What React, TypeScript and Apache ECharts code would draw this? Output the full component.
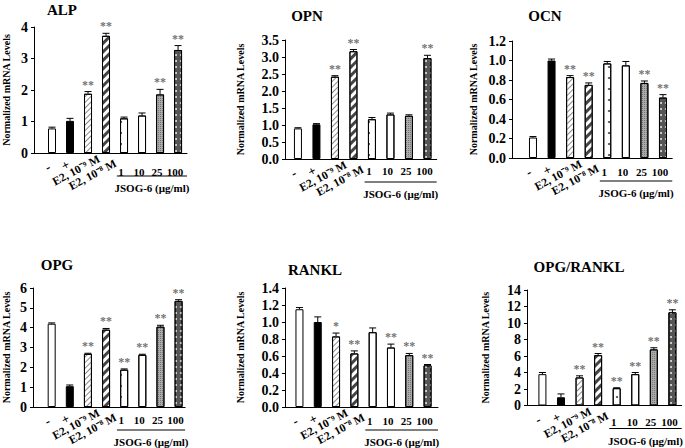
import React, { useEffect, useRef } from 'react';
import * as echarts from 'echarts';

// ---------- data ----------
const categories = ['-', '+', 'E2, 10⁻⁹ M', 'E2, 10⁻⁸ M', '1', '10', '25', '100'];
const panelTitles = ['ALP', 'OPN', 'OCN', 'OPG', 'RANKL', 'OPG/RANKL'];

const alpMean = [0.78, 1.02, 1.88, 3.72, 1.1, 1.19, 1.86, 3.27];
const alpErr = [0.04, 0.08, 0.07, 0.08, 0.04, 0.08, 0.16, 0.14];
const alpStars = ['', '', '**', '**', '', '', '**', '**'];

const opnMean = [0.9, 1.02, 2.42, 3.17, 1.17, 1.31, 1.27, 2.97];
const opnErr = [0.02, 0.02, 0.03, 0.05, 0.05, 0.04, 0.03, 0.08];
const opnStars = ['', '', '**', '**', '', '', '', '**'];

const ocnMean = [0.21, 1.0, 0.83, 0.75, 0.97, 0.95, 0.77, 0.62];
const ocnErr = [0.01, 0.015, 0.015, 0.02, 0.02, 0.04, 0.02, 0.03];
const ocnStars = ['', '', '**', '**', '', '', '**', '**'];

const opgMean = [4.2, 1.05, 2.68, 3.9, 1.88, 2.63, 4.05, 5.35];
const opgErr = [0.04, 0.06, 0.03, 0.06, 0.04, 0.03, 0.07, 0.06];
const opgStars = ['', '', '**', '**', '**', '**', '**', '**'];

const ranklMean = [1.15, 1.0, 0.83, 0.63, 0.88, 0.7, 0.61, 0.49];
const ranklErr = [0.02, 0.06, 0.04, 0.03, 0.05, 0.04, 0.02, 0.01];
const ranklStars = ['', '', '*', '**', '', '**', '**', '**'];

const ratioMean = [3.8, 1.0, 3.4, 6.1, 2.1, 3.8, 6.8, 11.3];
const ratioErr = [0.2, 0.4, 0.2, 0.2, 0.05, 0.2, 0.2, 0.3];
const ratioStars = ['', '', '**', '**', '**', '**', '**', '**'];

const yMax = [4, 3.5, 1.2, 6, 1.4, 14];
const yStep = [1, 0.5, 0.2, 1, 0.2, 2];
const yDecimals = [0, 1, 1, 0, 1, 0];

const yAxisTitle = 'Normalized mRNA Levels';
const groupTitle = 'JSOG-6 (μg/ml)';

const means = [alpMean, opnMean, ocnMean, opgMean, ranklMean, ratioMean];
const errs = [alpErr, opnErr, ocnErr, opgErr, ranklErr, ratioErr];
const stars = [alpStars, opnStars, ocnStars, opgStars, ranklStars, ratioStars];

// ---------- layout ----------
const layouts = [
  { left: 31, top: 27, bottom: 153, xmin: 0, xmax: 8.5, unit: 18.36, nameGap: 23, tx: 62, ty: 10, numDy: 19 },
  { left: 285, top: 40, bottom: 159, xmin: 0.3, xmax: 8.5, unit: 18.5, nameGap: 40, tx: 307, ty: 16, numDy: 12 },
  { left: 512, top: 41, bottom: 158, xmin: -0.13, xmax: 8.5, unit: 18.57, nameGap: 34, tx: 545, ty: 16, numDy: 14 },
  { left: 32, top: 288, bottom: 407, xmin: -0.03, xmax: 8.36, unit: 18.25, nameGap: 22, tx: 57, ty: 265, numDy: 13 },
  { left: 285, top: 288, bottom: 407, xmin: 0.21, xmax: 8.57, unit: 18.3, nameGap: 40, tx: 315, ty: 270, numDy: 14 },
  { left: 527, top: 290, bottom: 405.5, xmin: 0.17, xmax: 8.5, unit: 18.57, nameGap: 37, tx: 579, ty: 267, numDy: 16 },
];
// offsets of the slanted labels from their bar centre / axis line
const slantOffsets = [
  { dx: -4.5, dy: 14, size: 13 },
  { dx: -4.5, dy: 12, size: 13 },
  { dx: -12, dy: 17, size: 11.5 },
  { dx: -13.5, dy: 21.5, size: 11.5 },
];

const FONT = '"Liberation Serif", "Times New Roman", serif';

const barStyles: any[] = [
  { color: '#fff' },
  { color: '#000' },
  { color: '#fff', decal: { symbol: 'rect', symbolSize: 1, symbolKeepAspect: false, dashArrayX: [1, 0], dashArrayY: [1, 2.5], rotation: -Math.PI / 4, color: '#8a8a8a', backgroundColor: '#fff' } },
  { color: '#fff', decal: { symbol: 'rect', symbolSize: 1, symbolKeepAspect: false, dashArrayX: [1, 0], dashArrayY: [2.5, 2.5], rotation: -Math.PI / 4, color: '#444', backgroundColor: '#fff' } },
  { color: '#fff', decal: { symbol: 'circle', symbolSize: 1, dashArrayX: [1.2, 6], dashArrayY: [1.2, 9], color: '#444', backgroundColor: '#fff' } },
  { color: '#fff', decal: { symbol: 'circle', symbolSize: 1, dashArrayX: [1, 2.2], dashArrayY: [1, 2.2], color: '#666', backgroundColor: '#fff' } },
  { color: '#aaa', decal: { symbol: 'rect', symbolSize: 1, symbolKeepAspect: false, dashArrayX: [1, 1], dashArrayY: [1, 1], color: '#777', backgroundColor: '#bbb' } },
  { color: '#555', decal: { symbol: 'circle', symbolSize: 1, dashArrayX: [1.2, 3], dashArrayY: [1.2, 4], color: '#ddd', backgroundColor: '#555' } },
];

export default function App() {
  const ref = useRef<HTMLDivElement>(null);
  useEffect(() => {
    if (!ref.current) return;
    const chart = echarts.init(ref.current, undefined, { renderer: 'svg' });

    const grids: any[] = [];
    const xAxes: any[] = [];
    const yAxes: any[] = [];
    const series: any[] = [];
    const titles: any[] = [];

    layouts.forEach((L, k) => {
      const width = (L.xmax - L.xmin) * L.unit;
      grids.push({ left: L.left, top: L.top, width, height: L.bottom - L.top });
      titles.push({
        text: panelTitles[k], left: L.tx, top: L.ty, textAlign: 'center', textVerticalAlign: 'middle', padding: 0,
        textStyle: { fontSize: 15, fontWeight: 'bold', color: '#000', fontFamily: FONT },
      });
      // main axis
      xAxes.push({
        type: 'value', gridIndex: k, position: 'bottom', min: L.xmin, max: L.xmax,
        axisLine: { show: true, onZero: false, lineStyle: { color: '#000', width: 1 } },
        axisTick: { show: false }, axisLabel: { show: false }, splitLine: { show: false },
      });
      // horizontal number labels (shifted slightly left, as in the source figure)
      const dx = -3;
      xAxes.push({
        type: 'value', gridIndex: k, position: 'bottom', min: L.xmin - dx / L.unit, max: L.xmax - dx / L.unit,
        axisLine: { show: false, onZero: false }, axisTick: { show: false }, splitLine: { show: false },
        axisLabel: {
          show: true, customValues: [5, 6, 7, 8], margin: L.numDy, align: 'center', verticalAlign: 'middle',
          fontFamily: FONT, fontWeight: 'bold', fontSize: 11, color: '#000',
          formatter: (v: number) => categories[Math.round(v) - 1] ?? '',
        },
      });

      yAxes.push({
        type: 'value', gridIndex: k, position: 'left', min: 0, max: yMax[k], interval: yStep[k],
        name: yAxisTitle, nameLocation: 'middle', nameGap: L.nameGap,
        nameTextStyle: { fontFamily: FONT, fontWeight: 'bold', fontSize: 10, color: '#000' },
        axisLine: { show: true, onZero: false, lineStyle: { color: '#000', width: 1 } },
        axisTick: { show: true, length: 3, lineStyle: { color: '#000' } },
        splitLine: { show: false },
        axisLabel: {
          margin: 6, fontFamily: FONT, fontWeight: 'bold', fontSize: 14, color: '#000',
          formatter: (v: number) => v.toFixed(yDecimals[k]),
        },
      });

      series.push({
        type: 'bar', xAxisIndex: k * 2, yAxisIndex: k, barWidth: 8,
        data: means[k].map((v, i) => ({
          value: [i + 1, v],
          itemStyle: { ...barStyles[i], borderColor: '#000', borderWidth: 1 },
        })),
      });
      const st = stars[k];
      series.push({
        type: 'custom', xAxisIndex: k * 2, yAxisIndex: k, clip: false,
        encode: { x: 0, y: 1 },
        data: means[k].map((v, i) => [i + 1, v, errs[k][i]]),
        renderItem: (params: any, api: any) => {
          const x = api.value(0), m = api.value(1), e = api.value(2);
          const b = api.coord([x, m]);
          const t = api.coord([x, m + e]);
          const s = st[params.dataIndex];
          const children: any[] = [
            { type: 'line', shape: { x1: b[0], y1: b[1], x2: t[0], y2: t[1] }, style: { stroke: '#000', lineWidth: 1 } },
            { type: 'line', shape: { x1: t[0] - 3.5, y1: t[1], x2: t[0] + 3.5, y2: t[1] }, style: { stroke: '#000', lineWidth: 1 } },
          ];
          if (s) {
            children.push({
              type: 'text', x: t[0], y: t[1] - 1,
              style: { text: s, fill: '#6e6e6e', opacity: 0.99, fontSize: 12, fontWeight: 'bold', fontFamily: FONT, align: 'center', verticalAlign: 'bottom' },
            });
          }
          return { type: 'group', children };
        },
      });
    });

    chart.setOption({
      animation: false,
      backgroundColor: '#fff',
      textStyle: { fontFamily: FONT },
      title: titles,
      grid: grids,
      xAxis: xAxes,
      yAxis: yAxes,
      series,
    });

    const graphics: any[] = [];
    const rot = (28 * Math.PI) / 180;
    layouts.forEach((L, k) => {
      const px = (v: number) => chart.convertToPixel({ xAxisIndex: k * 2 } as any, v) as number;
      const x1 = px(4.6);
      const x2 = px(L.xmax);
      const y0 = L.bottom;
      graphics.push({
        type: 'line', shape: { x1, y1: y0 + 23, x2, y2: y0 + 23 }, style: { stroke: '#000', lineWidth: 1 },
      });
      graphics.push({
        type: 'text', x: (x1 + x2) / 2, y: y0 + 35,
        style: { text: groupTitle, fill: '#000', fontSize: 11, fontWeight: 'bold', fontFamily: FONT, align: 'center', verticalAlign: 'middle' },
      });
      slantOffsets.forEach((o, i) => {
        graphics.push({
          type: 'text', x: px(i + 1) + o.dx, y: y0 + o.dy, rotation: rot,
          style: { text: categories[i], fill: '#000', fontSize: o.size, fontWeight: 'bold', fontFamily: FONT, align: 'center', verticalAlign: 'middle' },
        });
      });
    });
    chart.setOption({ graphic: graphics });

    return () => chart.dispose();
  }, []);
  return <div ref={ref} style={{ position: 'absolute', left: 0, top: 0, width: 685, height: 448, background: '#fff' }} />;
}
